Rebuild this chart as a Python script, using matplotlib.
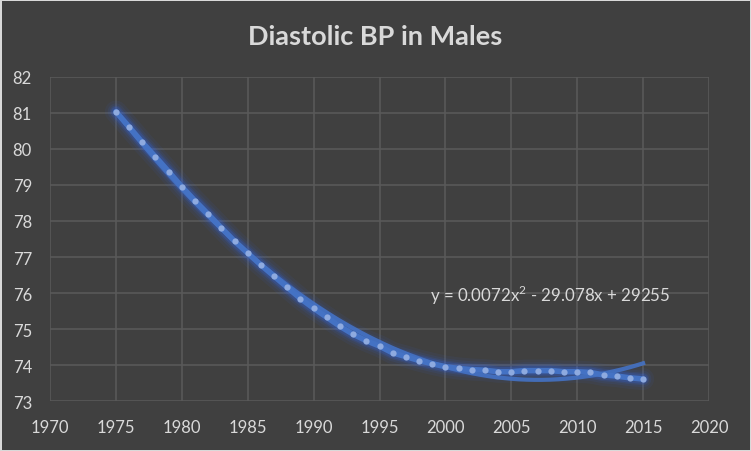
import numpy as np
from matplotlib import pyplot as plt

years = list(range(1975, 2016))
dbp = [81.03, 80.61, 80.18, 79.78, 79.37, 78.95, 78.56, 78.19, 77.81, 77.44,
       77.11, 76.78, 76.47, 76.16, 75.85, 75.58, 75.33, 75.08, 74.86, 74.68,
       74.53, 74.34, 74.24, 74.13, 74.04, 73.96, 73.91, 73.88, 73.86, 73.82,
       73.82, 73.85, 73.85, 73.85, 73.82, 73.82, 73.80, 73.73, 73.70, 73.65,
       73.62]
title = 'Diastolic BP in Males'
equation = 'y = 0.0072x$^2$ - 29.078x + 29255'

bg = '#404040'
fg = '#d9d9d9'
blue = '#4472c4'

plt.rcParams['font.family'] = ['Lato', 'DejaVu Sans']
plt.rcParams['mathtext.fontset'] = 'custom'
plt.rcParams['mathtext.rm'] = 'Lato'

fig = plt.figure(figsize=(7.51, 4.52), dpi=100, facecolor=bg,
                 edgecolor='#d9d9d9', linewidth=2)
ax = fig.add_axes([50 / 751, 1 - 402.3 / 452, (709 - 50) / 751, (402.3 - 77.7) / 452])
ax.set_facecolor(bg)

x = np.array(years, dtype=float)
y = np.array(dbp)

# quadratic trendline (centred to keep the fit well conditioned)
coef = np.polyfit(x - 1995, y, 2)
xt = np.linspace(1975, 2015, 200)
yt = np.polyval(coef, xt - 1995)

# glow under the series
for lw, a in [(16, 0.06), (12, 0.08), (9, 0.12), (7, 0.18)]:
    ax.plot(x, y, color='#2f6bff', lw=lw, alpha=a, solid_capstyle='round', zorder=2)
ax.plot(xt, yt, color=blue, lw=3, alpha=0.9, zorder=3)
ax.plot(x, y, color=blue, lw=4, solid_capstyle='round', zorder=4)
ax.plot(x, y, ls='none', marker='o', ms=4.5, mfc='#8eaadf', mec='none', zorder=5)

ax.text(2017.1, 75.97, equation, ha='right', va='center', color=fg, fontsize=12.2)

ax.set_xlim(1970, 2020)
ax.set_ylim(73, 82)
ax.set_xticks(range(1970, 2021, 5))
ax.set_yticks(range(73, 83))
ax.grid(True, color='#595959', lw=1.2)
ax.set_axisbelow(True)
for s in ax.spines.values():
    s.set_visible(False)
ax.tick_params(colors=fg, labelsize=12, length=0)
ax.tick_params(axis='x', pad=13)
ax.tick_params(axis='y', pad=13)

fig.text(0.5, 1 - 37 / 452, title, ha='center', va='center', color=fg,
         fontsize=19.5, fontweight='bold')

fig.savefig('out.png', dpi=100, facecolor=bg, edgecolor='#d9d9d9')
